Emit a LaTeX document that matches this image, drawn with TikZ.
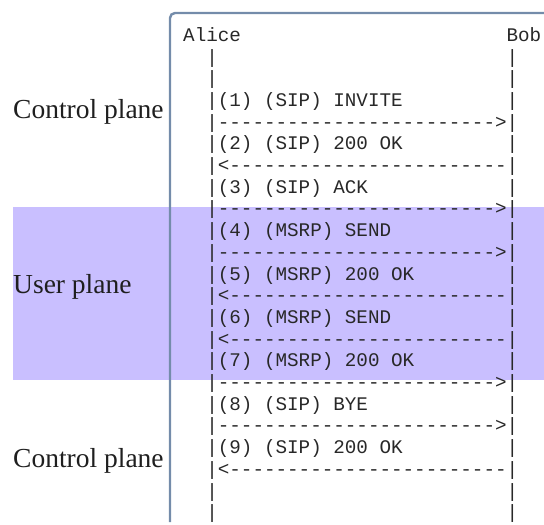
\documentclass[tikz,border=0pt]{standalone}
\usepackage{fontspec}
\setmainfont{Liberation Serif}
\setmonofont{Liberation Mono}
\definecolor{bandfill}{RGB}{201,191,255}
\definecolor{framecol}{RGB}{116,140,170}
\definecolor{ink}{RGB}{40,40,40}
\begin{document}
\begin{tikzpicture}[x=1pt,y=-1pt,
  mono/.style={font=\fontsize{19.25}{20}\selectfont\ttfamily, text=ink, inner sep=0pt, anchor=base west},
  planelabel/.style={font=\fontsize{27.5}{30}\selectfont, text=black!88, inner sep=0pt, anchor=base west}]
\useasboundingbox (0,0) rectangle (544,525);
% user plane band
\fill[bandfill] (13,207) rectangle (544,380);
% frame
\draw[framecol, line width=2.4pt, rounded corners=5pt] (170,522) -- (170,13) -- (548,13);
% plane labels
\node[planelabel] (cp1) at (13,118) {Control plane};
\node[planelabel] (up) at (13,293) {User plane};
\node[planelabel] (cp2) at (13,467) {Control plane};
% header
\node[mono] (alice) at (183,41.3) {Alice};
\node[mono] (bob) at (506.4,41.3) {Bob};
% empty rows
\node[mono] (l1) at (206.1,63.0) {|};  \node[mono] (r1) at (506.4,63.0) {|};
\node[mono] (l2) at (206.1,84.7) {|};  \node[mono] (r2) at (506.4,84.7) {|};
% messages
\node[mono] (m1) at (206.1,106.4) {|(1) (SIP) INVITE};   \node[mono] (r3) at (506.4,106.4) {|};
\node[mono] (a1) at (206.1,128.1) {|------------------------>|};
\node[mono] (m2) at (206.1,149.8) {|(2) (SIP) 200 OK};   \node[mono] (r5) at (506.4,149.8) {|};
\node[mono] (a2) at (206.1,171.5) {|<------------------------|};
\node[mono] (m3) at (206.1,193.2) {|(3) (SIP) ACK};      \node[mono] (r7) at (506.4,193.2) {|};
\node[mono] (a3) at (206.1,214.9) {|------------------------>|};
\node[mono] (m4) at (206.1,236.6) {|(4) (MSRP) SEND};    \node[mono] (r9) at (506.4,236.6) {|};
\node[mono] (a4) at (206.1,258.3) {|------------------------>|};
\node[mono] (m5) at (206.1,280.0) {|(5) (MSRP) 200 OK};  \node[mono] (r11) at (506.4,280.0) {|};
\node[mono] (a5) at (206.1,301.7) {|<------------------------|};
\node[mono] (m6) at (206.1,323.4) {|(6) (MSRP) SEND};    \node[mono] (r13) at (506.4,323.4) {|};
\node[mono] (a6) at (206.1,345.1) {|<------------------------|};
\node[mono] (m7) at (206.1,366.8) {|(7) (MSRP) 200 OK};  \node[mono] (r15) at (506.4,366.8) {|};
\node[mono] (a7) at (206.1,388.5) {|------------------------>|};
\node[mono] (m8) at (206.1,410.2) {|(8) (SIP) BYE};      \node[mono] (r17) at (506.4,410.2) {|};
\node[mono] (a8) at (206.1,431.9) {|------------------------>|};
\node[mono] (m9) at (206.1,453.6) {|(9) (SIP) 200 OK};   \node[mono] (r19) at (506.4,453.6) {|};
\node[mono] (a9) at (206.1,475.3) {|<------------------------|};
% trailing empty rows
\node[mono] (l21) at (206.1,497.0) {|}; \node[mono] (r21) at (506.4,497.0) {|};
\node[mono] (l22) at (206.1,518.7) {|}; \node[mono] (r22) at (506.4,518.7) {|};
\end{tikzpicture}
\end{document}
